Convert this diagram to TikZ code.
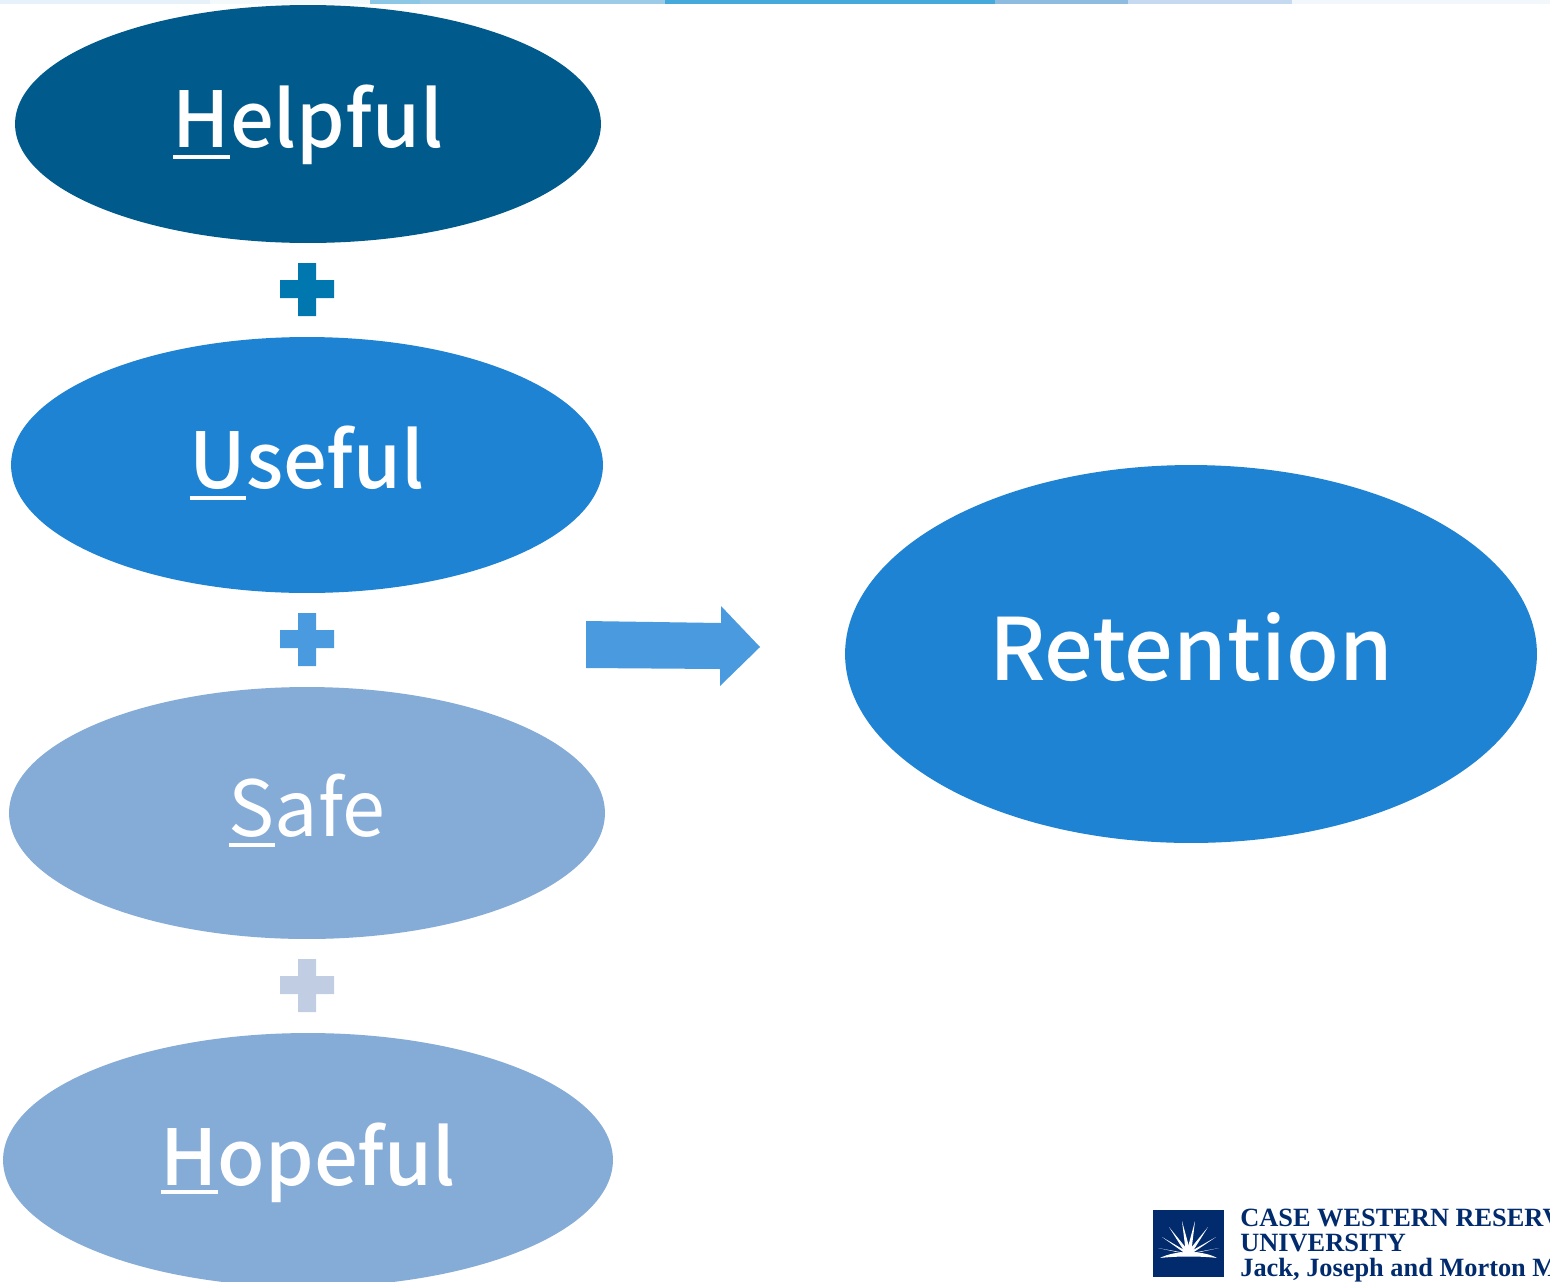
\documentclass[tikz,border=0pt]{standalone}
\usepackage{fontspec}
\usepackage{xcolor}
\usetikzlibrary{shapes.geometric}
\setmainfont{Noto Sans CJK SC Medium}
\newfontfamily\safefont{Noto Sans CJK SC}
\newfontfamily\logofont{Liberation Serif}
\definecolor{helpfulblue}{HTML}{005A8B}
\definecolor{usefulblue}{HTML}{1F83D3}
\definecolor{safeblue}{HTML}{85ABD7}
\definecolor{plusone}{HTML}{0077AE}
\definecolor{plustwo}{HTML}{4A9ADF}
\definecolor{plusthree}{HTML}{C0CDE3}
\definecolor{logonavy}{HTML}{012B6D}
\newlength\ulletterlen
\newcommand{\ulletter}[2][-6.2pt]{\settowidth{\ulletterlen}{#2}\rlap{\rule[#1]{\ulletterlen}{2.2pt}}#2}
\tikzset{
  oval/.style={ellipse,inner sep=0pt,text=white,text height=27.2pt,text depth=0pt,font=\fontsize{44}{44}\selectfont},
  logotext/.style={anchor=base west,inner sep=0pt,text=logonavy,font=\logofont\bfseries\fontsize{15}{15}\selectfont}
}
\begin{document}
\begin{tikzpicture}[x=0.02cm,y=-0.02cm]
   \useasboundingbox (0,0) rectangle (1550,1281);
   \clip (0,0) rectangle (1550,1281);
   % band along the top edge
   \foreach \xa/\xb/\col in {0/210/E6F1F9,210/370/F4F9FC,370/420/8CC8E6,420/665/9CCBE8,665/995/45A9DC,995/1128/8DBCE0,1128/1292/C5DAF0,1292/1550/F2F7FB} {
     \definecolor{bandcol}{HTML}{\col}
     \fill [bandcol] (\xa,0) rectangle (\xb,4);
   }
   \node (helpful) [oval,fill=helpfulblue,minimum width=11.72cm,minimum height=4.76cm] at (308,124) {\ulletter{H}elpful};
   \node (useful) [oval,fill=usefulblue,minimum width=11.84cm,minimum height=5.12cm] at (307,465) {\ulletter{U}seful};
   \node (safe) [oval,fill=safeblue,minimum width=11.92cm,minimum height=5.04cm,font=\safefont\fontsize{44}{44}\selectfont] at (307,813) {\ulletter[-5.7pt]{S}afe};
   \node (hopeful) [oval,fill=safeblue,minimum width=12.2cm,minimum height=5.08cm,text height=29.5pt] at (308,1160) {\ulletter[-4.6pt]{H}opeful};
   \node (retention) [oval,fill=usefulblue,minimum width=13.84cm,minimum height=7.56cm,text height=30.6pt,font=\fontsize{49}{49}\selectfont] at (1191,654) {Retention};
   % the plus signs
   \foreach \py/\col in {289/plusone,639/plustwo,985/plusthree}
     \fill [\col] (298,\py-26) rectangle (316,\py+27) (280,\py-9) rectangle (334,\py+9);
   \fill [plustwo] (586,621) -- (721,623) -- (721,606) -- (760,647) -- (720,686) -- (720,669) -- (586,668) -- cycle;
   % logo
   \fill [logonavy] (1153,1210) rectangle (1224,1277);
   \foreach \tx/\ty in {1158/1248,1162/1237,1169/1227,1182/1221,1195/1221,1208/1227,1216/1237,1219/1248}
     \fill [white] (\tx,\ty) -- (1186,1254) -- (1191,1254) -- cycle;
   \fill [white] (1160,1258) .. controls (1175,1250) and (1203,1250) .. (1217,1258) .. controls (1203,1256) and (1175,1256) .. (1160,1258) -- cycle;
   \node (logoa) [logotext] at (1240,1226) {CASE WESTERN RESERVE};
   \node (logob) [logotext] at (1240,1251) {UNIVERSITY};
   \node (logoc) [logotext] at (1240,1276) {Jack, Joseph and Morton Mandel};
\end{tikzpicture}
\end{document}
